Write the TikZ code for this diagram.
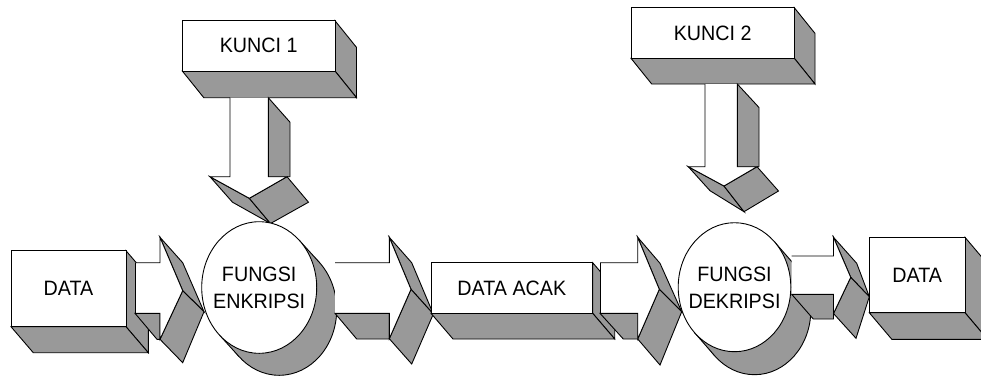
\documentclass[tikz,border=0pt]{standalone}
\usepackage{fontspec}
\setmainfont{Liberation Sans}
\newfontfamily\lblfont[FakeStretch=0.947]{Liberation Sans}
\definecolor{extrude}{RGB}{153,153,153}
\tikzset{
  edge/.style={draw=black, line width=0.9pt, line join=miter},
  side/.style={fill=extrude, edge},
  face/.style={fill=white, edge},
  lbl/.style={font=\lblfont\fontsize{20.8}{27}\selectfont, align=center, inner sep=0pt}
}
% block with a white front face and grey right and bottom faces
\newcommand\solidbox[6]{%
  \filldraw[side] (#3,#2) -- (#3+#5,#2+#6) -- (#3+#5,#4+#6) -- (#3,#4) -- cycle;
  \filldraw[side] (#1,#4) -- (#3,#4) -- (#3+#5,#4+#6) -- (#1+#5,#4+#6) -- cycle;
  \filldraw[face] (#1,#2) rectangle (#3,#4);}
% right-pointing 3-D block arrow built from named corner coordinates
\newcommand\flatarrow[1]{%
  \filldraw[side] (#1-LB) -- (#1-HB) -- (#1-bfr) -- (#1-bf) -- cycle;
  \filldraw[side] (#1-ht) -- (#1-eht) -- (#1-etip) -- (#1-tip) -- cycle;
  \filldraw[side] (#1-tip) -- (#1-etip) -- (#1-ehb) -- (#1-hb) -- cycle;
  \fill[white] (#1-LT) -- (#1-HT) -- (#1-ht) -- (#1-tip) -- (#1-hb) -- (#1-HB) -- (#1-LB) -- cycle;
  \draw[edge] (#1-LT) -- (#1-HT) -- (#1-ht) -- (#1-tip) -- (#1-hb) -- (#1-HB) -- (#1-LB);}
% downward 3-D block arrow built from named corner coordinates
\newcommand\droparrow[1]{%
  \filldraw[side] (#1-RT) -- (#1-rtd) -- (#1-rhd) -- (#1-RH) -- cycle;
  \filldraw[side] (#1-hl) -- (#1-tip) -- (#1-etip) -- (#1-ehl) -- cycle;
  \filldraw[side] (#1-tip) -- (#1-hr) -- (#1-ehr) -- (#1-etip) -- cycle;
  \fill[white] (#1-LT) -- (#1-LH) -- (#1-hl) -- (#1-tip) -- (#1-hr) -- (#1-RH) -- (#1-RT) -- cycle;
  \draw[edge] (#1-LT) -- (#1-LH) -- (#1-hl) -- (#1-tip) -- (#1-hr) -- (#1-RH) -- (#1-RT);}
% extruded ellipse: name, centre, radii, depth offset, tangent angle
\newcommand\drum[8]{%
  \coordinate (#1) at (#2,#3);
  \filldraw[side] (#2+#6,#3+#7) ellipse [x radius=#4, y radius=#5];
  \path (#1) ++(#8:#4 and #5) coordinate (#1-p);
  \path (#1) ++(#8+180:#4 and #5) coordinate (#1-q);
  \path (#1-p) ++(#6,#7) coordinate (#1-pd);
  \path (#1-q) ++(#6,#7) coordinate (#1-qd);
  \fill[extrude] (#1-p) -- (#1-pd) -- (#1-qd) -- (#1-q) -- cycle;
  \draw[edge] (#1-p) -- (#1-pd) (#1-q) -- (#1-qd);
  \filldraw[face] (#1) ellipse [x radius=#4, y radius=#5];}
\begin{document}
\begin{tikzpicture}[x=1pt, y=-1pt]
\useasboundingbox (0,0) rectangle (981,376);
\clip (0,0) rectangle (981,376);

% key blocks and their downward arrows
\solidbox{182.3}{20.7}{335}{71}{21.5}{26.7}
\coordinate (k1-LT) at (230,97.7);   \coordinate (k1-RT) at (268.3,97.7);
\coordinate (k1-LH) at (230,176.7);  \coordinate (k1-RH) at (268.3,176.7);
\coordinate (k1-hl) at (210,176.7);  \coordinate (k1-hr) at (287,176.7);
\coordinate (k1-tip) at (249.3,198.3);
\coordinate (k1-etip) at (270.5,223.5);
\coordinate (k1-ehl) at (232.5,202.2); \coordinate (k1-ehr) at (308.5,202.2);
\coordinate (k1-rtd) at (290,122.2); \coordinate (k1-rhd) at (290,176.7);
\droparrow{k1}

\solidbox{631}{7.7}{794.3}{58.3}{20.7}{25.7}
\coordinate (k2-LT) at (705,84);     \coordinate (k2-RT) at (737.3,84);
\coordinate (k2-LH) at (705,166.7);  \coordinate (k2-RH) at (737.3,166.7);
\coordinate (k2-hl) at (688.3,166.7); \coordinate (k2-hr) at (757,166.7);
\coordinate (k2-tip) at (724,186);
\coordinate (k2-etip) at (744,211.7);
\coordinate (k2-ehl) at (710,190.7); \coordinate (k2-ehr) at (778.5,191);
\coordinate (k2-rtd) at (759,107.5); \coordinate (k2-rhd) at (759,166.7);
\droparrow{k2}

% plain data block
\solidbox{11}{250.7}{126}{326.7}{22.3}{26}

% arrow into the encryption function
\coordinate (a1-LT) at (135,262.7);  \coordinate (a1-HT) at (160,262.7);
\coordinate (a1-LB) at (135,313.3);  \coordinate (a1-HB) at (160,313.3);
\coordinate (a1-ht) at (160,237.3);  \coordinate (a1-hb) at (160,339.3);
\coordinate (a1-tip) at (182.7,290.7);
\coordinate (a1-eht) at (182.7,262.7);
\coordinate (a1-etip) at (204,311.7);
\coordinate (a1-ehb) at (182.7,362.7);
\coordinate (a1-bf) at (157,339.3);  \coordinate (a1-bfr) at (160,339.3);
\flatarrow{a1}
\draw[edge] (a1-LB) -- (a1-LT);

% encryption function
\drum{c1}{259.2}{287.5}{57.5}{65.8}{20}{22}{-46.13}

% arrow to the scrambled data
\coordinate (a2-LT) at (335,262.7);  \coordinate (a2-HT) at (389.3,262.7);
\coordinate (a2-LB) at (335,313.3);  \coordinate (a2-HB) at (389.3,313.3);
\coordinate (a2-ht) at (389.3,237.3); \coordinate (a2-hb) at (389.3,338.7);
\coordinate (a2-tip) at (411,289.3);
\coordinate (a2-eht) at (411.7,262.7);
\coordinate (a2-etip) at (433.3,314);
\coordinate (a2-ehb) at (411.7,364);
\coordinate (a2-bf) at (356.7,339);  \coordinate (a2-bfr) at (389.3,339);
\flatarrow{a2}

% scrambled data block
\solidbox{431}{262.7}{592.7}{313.3}{22}{25.7}

% arrow into the decryption function
\coordinate (a3-LT) at (600,262.7);  \coordinate (a3-HT) at (637.7,262.7);
\coordinate (a3-LB) at (600,313.3);  \coordinate (a3-HB) at (637.7,313.3);
\coordinate (a3-ht) at (637.7,237.3); \coordinate (a3-hb) at (637.7,339);
\coordinate (a3-tip) at (659.3,289.3);
\coordinate (a3-eht) at (660,263.3);
\coordinate (a3-etip) at (681.7,311.7);
\coordinate (a3-ehb) at (660,365);
\coordinate (a3-bf) at (623.3,339);  \coordinate (a3-bfr) at (637.7,339);
\flatarrow{a3}
\draw[edge] (a3-LB) -- (a3-LT);

% decryption function
\drum{c2}{734.5}{287.2}{56.3}{64.5}{20}{23}{-44.89}

% arrow to the recovered data
\coordinate (a4-LT) at (791.7,256);  \coordinate (a4-HT) at (833.5,256);
\coordinate (a4-LB) at (791.7,294.3); \coordinate (a4-HB) at (833.5,294.3);
\coordinate (a4-ht) at (833.5,237.3); \coordinate (a4-hb) at (833.5,313.5);
\coordinate (a4-tip) at (850.7,277.3);
\coordinate (a4-eht) at (856.7,263.3);
\coordinate (a4-etip) at (869.3,296.7);
\coordinate (a4-ehb) at (856,338.3);
\coordinate (a4-bf) at (813.3,319);  \coordinate (a4-bfr) at (833.5,319);
\flatarrow{a4}

% recovered data block
\solidbox{869.3}{237.3}{965}{312.7}{22.5}{26.6}

% labels
\node[lbl] (kunci1) at (258.7,45.8) {KUNCI 1};
\node[lbl] (kunci2) at (712.7,33) {KUNCI 2};
\node[lbl] (data1) at (68.5,288.7) {DATA};
\node[lbl] (enk) at (259.2,288) {FUNGSI\\ENKRIPSI};
\node[lbl] (acak) at (511.8,288) {DATA ACAK};
\node[lbl] (dek) at (734.5,288) {FUNGSI\\DEKRIPSI};
\node[lbl] (data2) at (917.2,275) {DATA};
\end{tikzpicture}
\end{document}
